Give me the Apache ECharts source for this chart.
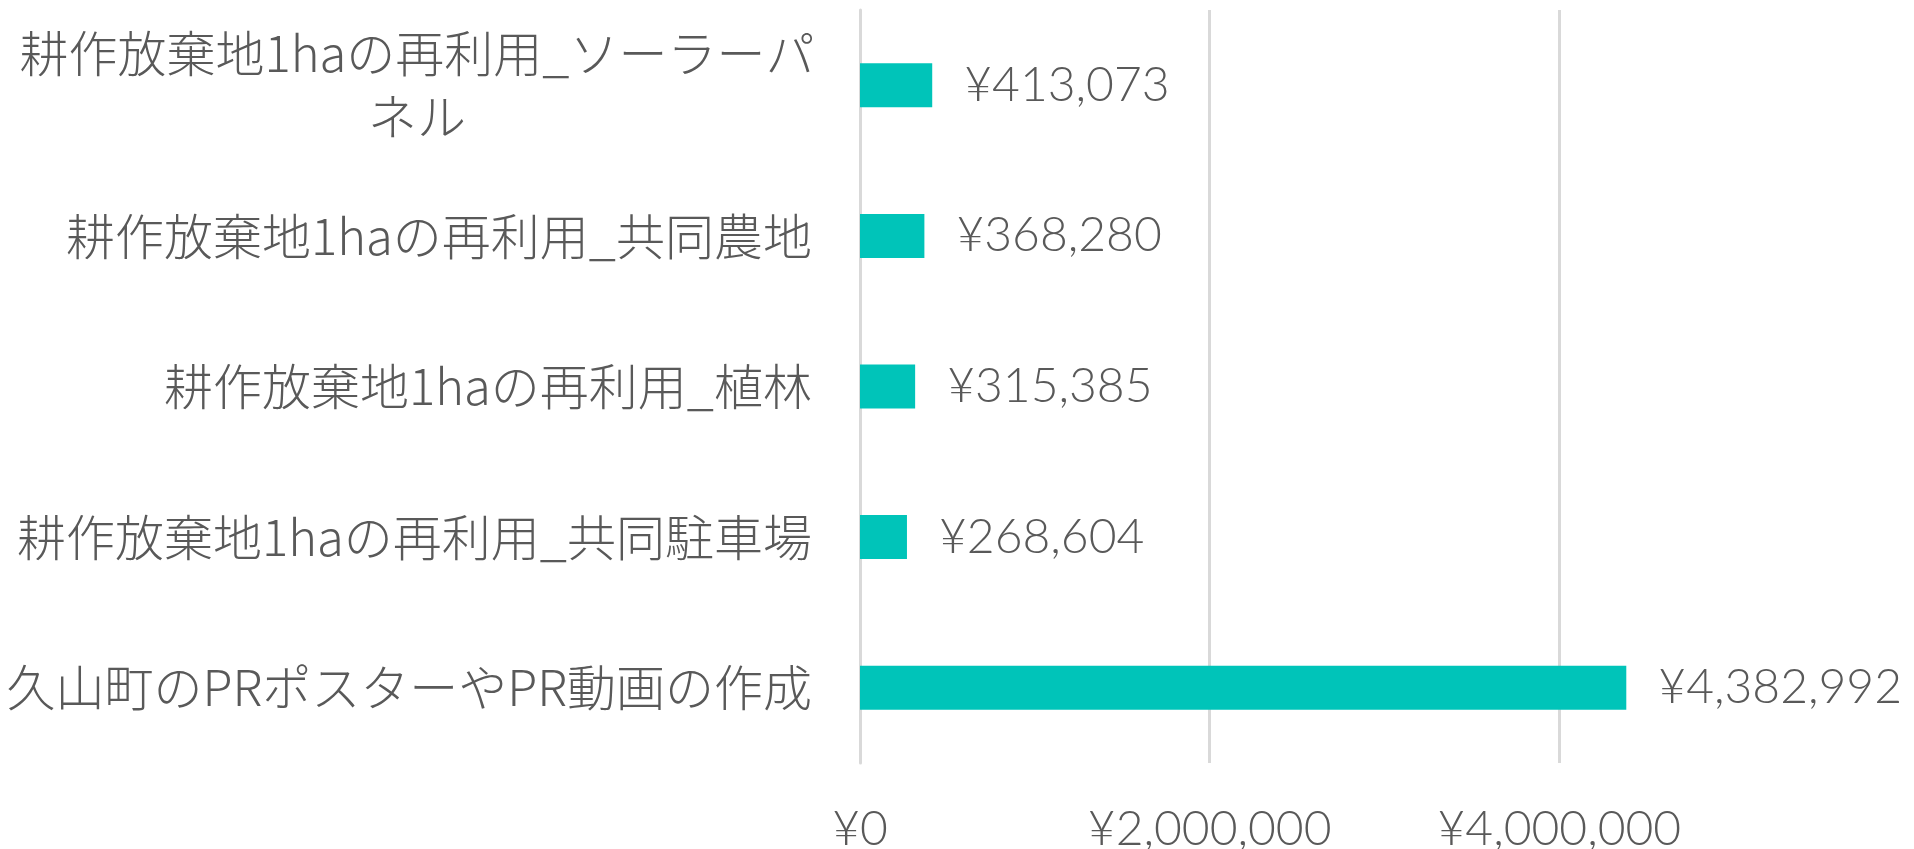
<!DOCTYPE html>
<html>
<head>
<meta charset="utf-8">
<script src="https://cdn.jsdelivr.net/npm/echarts@6/dist/echarts.min.js"></script>
<style>
  html, body { margin: 0; padding: 0; background: #fff; }
  #chart { width: 1914px; height: 849px; }
</style>
</head>
<body>
<div id="chart"></div>
<script>
  // data (top to bottom as in the picture)
  const categories = [
    '耕作放棄地1haの再利用_ソーラーパネル',
    '耕作放棄地1haの再利用_共同農地',
    '耕作放棄地1haの再利用_植林',
    '耕作放棄地1haの再利用_共同駐車場',
    '久山町のPRポスターやPR動画の作成'
  ];
  const costs = [413073, 368280, 315385, 268604, 4382992];
  const axisMax = 6000000;
  const axisStep = 2000000;

  const yen = v => '¥' + Number(v).toLocaleString('en-US');
  const textColor = '#595959';
  const gridColor = '#d9d9d9';
  const cjkFont = '"Noto Sans CJK JP", "Noto Sans", sans-serif';
  const numFont = 'Lato, "Noto Sans", sans-serif';

  const chart = echarts.init(document.getElementById('chart'));
  chart.setOption({
    animation: false,
    backgroundColor: '#fff',
    grid: { left: 860, right: 5, top: 10, bottom: 86, outerBoundsMode: 'none', containLabel: false },
    xAxis: {
      type: 'value',
      min: 0,
      max: axisMax,
      interval: axisStep,
      axisLine: { show: false },
      axisTick: { show: false },
      splitLine: { show: true, showMaxLine: false, lineStyle: { color: gridColor, width: 3 } },
      axisLabel: {
        showMaxLabel: false,
        margin: 43,
        color: textColor,
        fontFamily: numFont,
        fontWeight: 300,
        fontSize: 48,
        formatter: v => yen(v)
      }
    },
    yAxis: {
      type: 'category',
      inverse: true,
      data: categories,
      axisLine: { show: true, lineStyle: { color: gridColor, width: 3 } },
      axisTick: { show: false },
      axisLabel: {
        margin: 48,
        color: textColor,
        fontFamily: cjkFont,
        fontWeight: 300,
        fontSize: 49,
        lineHeight: 63,
        formatter: name => {
          // long names wrap onto a second, centred line
          if (name.length > 18) {
            return '{w|' + name.slice(0, 18) + '}\n{w|' + name.slice(18) + '}';
          }
          return name;
        },
        rich: {
          w: {
            width: 790,
            align: 'center',
            color: textColor,
            fontFamily: cjkFont,
            fontWeight: 300,
            fontSize: 49,
            lineHeight: 63
          }
        }
      }
    },
    series: [
      {
        type: 'bar',
        data: costs,
        barWidth: 44,
        itemStyle: { color: '#00c4b9' },
        label: {
          show: true,
          position: 'right',
          distance: 32,
          color: textColor,
          fontFamily: numFont,
          fontWeight: 300,
          fontSize: 48,
          formatter: p => yen(p.value)
        }
      }
    ]
  });
</script>
</body>
</html>
